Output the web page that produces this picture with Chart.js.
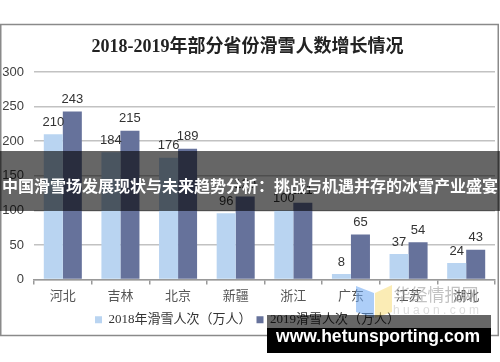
<!DOCTYPE html>
<html>
<head>
<meta charset="utf-8">
<script src="https://cdn.jsdelivr.net/npm/chart.js@4.4.0/dist/chart.umd.min.js"></script>
<style>
  html, body { margin: 0; padding: 0; background: #fff; }
  #wrap { width: 500px; height: 362px; }
</style>
</head>
<body>
<div id="wrap"><canvas id="canvas" width="500" height="362"></canvas></div>
<script>
const titleText = "2018-2019年部分省份滑雪人数增长情况"
const provinces = ["河北", "吉林", "北京", "新疆", "浙江", "广东", "江苏", "湖北"]
const skiers2018 = [210, 184, 176, 96, 100, 8, 37, 24]
const skiers2019 = [243, 215, 189, 120, 111, 65, 54, 43]
const seriesNames = ["2018年滑雪人次（万人）", "2019滑雪人次（万人）"]
const yMin = 0
const yMax = 300
const yStep = 50
const bannerText = "中国滑雪场发展现状与未来趋势分析：挑战与机遇并存的冰雪产业盛宴"
const siteText = "www.hetunsporting.com"

let ctx = document.getElementById("canvas").getContext("2d")

// white page + grey frame round the chart
const framePlugin = {
    id: "frame",
    beforeDraw(chart) {
        const c = chart.ctx
        c.save()
        c.fillStyle = "#fff"
        c.fillRect(0, 0, chart.width, chart.height)
        c.strokeStyle = "#8a8a8a"
        c.lineWidth = 1.5
        c.strokeRect(0.75, 24.5, 497.5, 311)
        c.restore()
    }
}

// value labels above the bars
const valueLabels = {
    id: "valueLabels",
    afterDatasetsDraw(chart) {
        const c = chart.ctx
        c.save()
        c.font = "13px 'Liberation Sans', Arial, sans-serif"
        c.fillStyle = "#333"
        c.textAlign = "center"
        c.textBaseline = "middle"
        chart.data.datasets.forEach((ds, i) => {
            chart.getDatasetMeta(i).data.forEach((bar, j) => {
                c.fillText(ds.data[j], bar.x, bar.y - 12)
            })
        })
        c.restore()
    }
}

// overlays that sit on top of the picture
const overlays = {
    id: "overlays",
    afterDraw(chart) {
        const c = chart.ctx
        c.save()
        // watermark logo
        c.globalAlpha = 0.55
        c.fillStyle = "#6aa6f2"
        c.beginPath()
        c.moveTo(356, 286); c.lineTo(374, 293); c.lineTo(374, 318); c.lineTo(356, 312)
        c.closePath(); c.fill()
        c.fillStyle = "#f7dc78"
        c.beginPath()
        c.moveTo(375, 293); c.lineTo(392, 285); c.lineTo(392, 312); c.lineTo(375, 318)
        c.closePath(); c.fill()
        c.globalAlpha = 0.6
        c.fillStyle = "#9a9a9a"
        c.font = "17px 'Noto Sans CJK SC', sans-serif"
        c.textAlign = "center"
        c.textBaseline = "middle"
        c.fillText("华经情报网", 436, 295)
        c.globalAlpha = 0.35
        c.font = "12px 'Liberation Sans', sans-serif"
        c.fillText("h u a o n . c o m", 436, 311)
        c.globalAlpha = 1

        // dark banner across the middle
        c.fillStyle = "rgba(0,0,0,0.6)"
        c.fillRect(0, 151, 500, 60)
        c.fillStyle = "#fff"
        c.font = "bold 16px 'Noto Sans CJK SC', sans-serif"
        c.fillText(bannerText, 250, 186, 496)

        // site box bottom right
        c.fillStyle = "rgba(0,0,0,0.6)"
        c.fillRect(267, 315, 224, 13)
        c.fillStyle = "#000"
        c.fillRect(267, 328, 224, 25)
        c.fillStyle = "#fff"
        c.font = "bold 18px 'Liberation Sans', Arial, sans-serif"
        c.fillText(siteText, 378, 337, 204)
        c.restore()
    }
}

const config = {
    type: "bar",
    data: {
        labels: provinces,
        datasets: [
            {
                label: seriesNames[0],
                data: skiers2018,
                backgroundColor: "#b9d4f1",
                barPercentage: 1,
                categoryPercentage: 0.66,
            },
            {
                label: seriesNames[1],
                data: skiers2019,
                backgroundColor: "#66729b",
                barPercentage: 1,
                categoryPercentage: 0.66,
            }
        ]
    },
    options: {
        responsive: false,
        animation: false,
        layout: {
            padding: { top: 24, left: 0, right: 5, bottom: 25.8 }
        },
        plugins: {
            title: {
                display: true,
                text: titleText,
                color: "#222",
                font: { family: "'Liberation Serif', 'Noto Sans CJK SC', serif", size: 18, weight: "bold" },
                padding: { top: 13, bottom: 13.4 }
            },
            legend: {
                position: "bottom",
                labels: {
                    boxWidth: 7,
                    boxHeight: 7,
                    padding: 5,
                    color: "#333",
                    font: { family: "'Liberation Serif', 'Noto Sans CJK SC', serif", size: 13 }
                }
            },
            tooltip: { enabled: false }
        },
        scales: {
            y: {
                min: yMin,
                max: yMax,
                ticks: {
                    stepSize: yStep,
                    padding: 10,
                    color: "#404040",
                    font: { family: "'Liberation Sans', Arial, sans-serif", size: 13 }
                },
                grid: { color: "#c2c2c2", lineWidth: 1.5, drawTicks: false },
                border: { display: false },
                afterFit(scale) { scale.width = 34 }
            },
            x: {
                ticks: {
                    padding: 4,
                    color: "#555",
                    font: { family: "'Liberation Serif', 'Noto Sans CJK SC', serif", size: 13 }
                },
                grid: { drawOnChartArea: false, drawTicks: true, tickLength: 5, color: "#999", lineWidth: 1.5 },
                border: { color: "#999", width: 1.5 }
            }
        }
    },
    plugins: [framePlugin, valueLabels, overlays]
}

let chart = new Chart(ctx, config)
</script>
</body>
</html>
